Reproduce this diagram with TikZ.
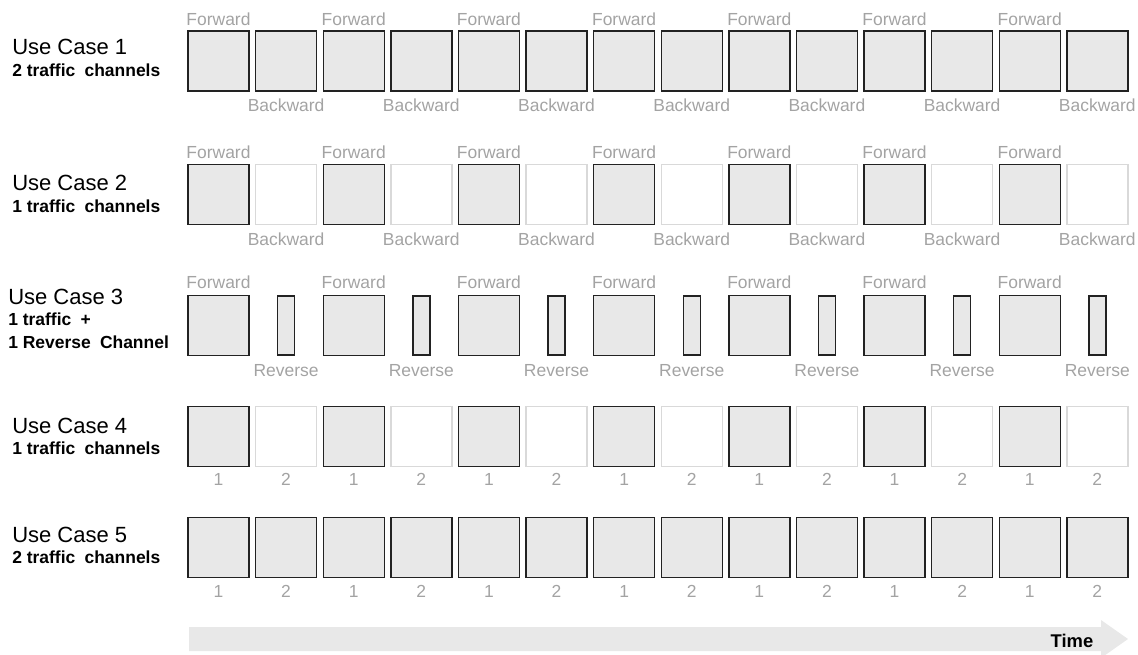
\documentclass[tikz,border=0pt]{standalone}
\usepackage{fontspec}
\setmainfont{Liberation Sans}
\definecolor{boxfill}{HTML}{E8E8E8}
\definecolor{boxline}{HTML}{222222}
\definecolor{emptyline}{HTML}{D9D9D9}
\definecolor{labelgray}{HTML}{A3A3A3}
\tikzset{
  slotbox/.style={draw=boxline, fill=boxfill, line width=1.05pt, inner sep=0pt, minimum width=45.75pt, minimum height=45pt},
  emptybox/.style={draw=emptyline, fill=white, line width=1.05pt, inner sep=0pt, minimum width=45.75pt, minimum height=45pt},
  narrowbox/.style={draw=boxline, fill=boxfill, line width=1.05pt, inner sep=0pt, minimum width=12.75pt, minimum height=44.25pt},
  slotlabel/.style={text=labelgray, font=\fontsize{13.1}{15}\selectfont, anchor=base, inner sep=0pt},
  casetitle/.style={font=\fontsize{16.5}{20}\selectfont, anchor=base west, inner sep=0pt},
  casesub/.style={font=\fontsize{13.1}{15}\bfseries\selectfont, anchor=base west, inner sep=0pt},
}
\begin{document}
\begin{tikzpicture}[x=0.75pt,y=-0.75pt]
\useasboundingbox (0,0) rectangle (1138,654);
% Left labels
\node[casetitle] (t1) at (12,54) {Use Case 1};
\node[casesub] (s1) at (12,76) {2 traffic\hspace{0.25em} channels};
\node[casetitle] (t2) at (12,190) {Use Case 2};
\node[casesub] (s2) at (12,212) {1 traffic\hspace{0.25em} channels};
\node[casetitle] (t3) at (8,304) {Use Case 3};
\node[casesub] (s3a) at (8,325) {1 traffic\hspace{0.25em} +};
\node[casesub] (s3b) at (8,348) {1 Reverse\hspace{0.25em} Channel};
\node[casetitle] (t4) at (12,433) {Use Case 4};
\node[casesub] (s4) at (12,454) {1 traffic\hspace{0.25em} channels};
\node[casetitle] (t5) at (12,542) {Use Case 5};
\node[casesub] (s5) at (12,563) {2 traffic\hspace{0.25em} channels};
% Rows
\foreach \i in {0,...,13}{
  \pgfmathsetmacro{\cx}{218.5+67.6*\i}
  \pgfmathtruncatemacro{\odd}{mod(\i,2)}
  % Row 1
  \node[slotbox] (ra\i) at (\cx,61) {};
  % Row 5
  \node[slotbox] (re\i) at (\cx,547.5) {};
  \ifnum\odd=0
    \node[slotbox] (rb\i) at (\cx,194.5) {};
    \node[slotbox] (rc\i) at (\cx,325.5) {};
    \node[slotbox] (rd\i) at (\cx,436.5) {};
    \node[slotlabel] (la\i) at (\cx,25) {Forward};
    \node[slotlabel] (lb\i) at (\cx,158) {Forward};
    \node[slotlabel] (lc\i) at (\cx,288) {Forward};
    \node[slotlabel] (ld\i) at (\cx,485) {1};
    \node[slotlabel] (le\i) at (\cx,597) {1};
  \else
    \node[emptybox] (rb\i) at (\cx,194.5) {};
    \node[narrowbox] (rc\i) at (\cx,325.5) {};
    \node[emptybox] (rd\i) at (\cx,436.5) {};
    \node[slotlabel] (la\i) at (\cx,111) {Backward};
    \node[slotlabel] (lb\i) at (\cx,245) {Backward};
    \node[slotlabel] (lc\i) at (\cx,376) {Reverse};
    \node[slotlabel] (ld\i) at (\cx,485) {2};
    \node[slotlabel] (le\i) at (\cx,597) {2};
  \fi
}
% Time arrow
\fill[boxfill] (189,627) -- (1101,627) -- (1101,620) -- (1128,639) -- (1101,658) -- (1101,651) -- (189,651) -- cycle;
\node[font=\fontsize{13.8}{16}\bfseries\selectfont, anchor=base, inner sep=0pt] (time) at (1072,647) {Time};
\end{tikzpicture}
\end{document}
